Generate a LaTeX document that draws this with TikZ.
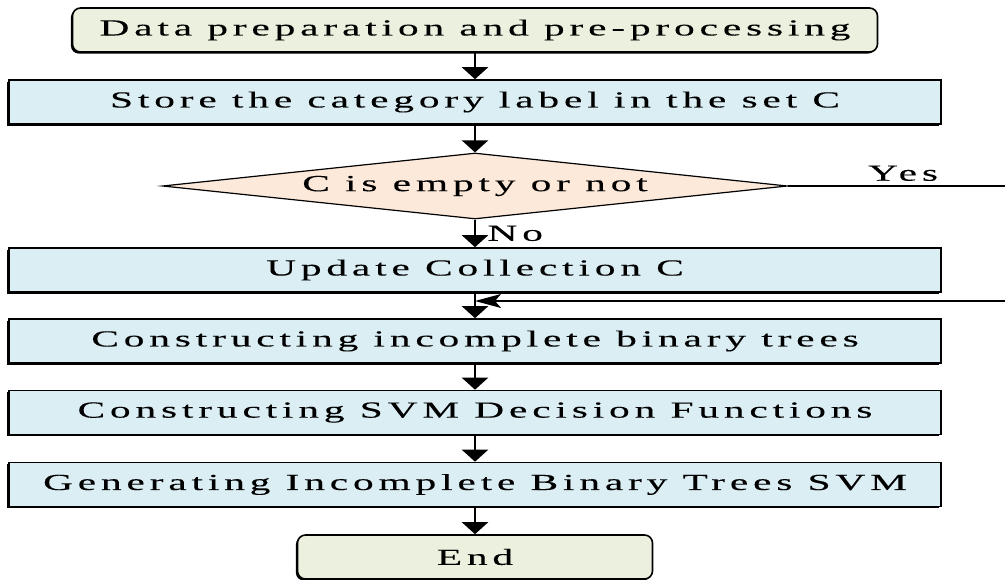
\documentclass[tikz,border=0pt]{standalone}
\usepackage{fontspec}
\setmainfont{Liberation Serif}[FakeStretch=1.8, LetterSpace=21, FakeBold=0.15]
\usetikzlibrary{arrows.meta,shapes.geometric,shadows}
\definecolor{termfill}{HTML}{EBF1DE}
\definecolor{stepfill}{HTML}{DAEEF3}
\definecolor{testfill}{HTML}{FDE9D9}
\begin{document}
\begin{tikzpicture}[x=1pt, y=-1pt,
  font=\fontsize{23}{27}\selectfont,
  boxshadow/.style={drop shadow={shadow xshift=-1.6pt, shadow yshift=-1.6pt, fill=black, opacity=1}},
  term/.style={draw, rounded corners=8pt, fill=termfill, line width=1.6pt,
    inner sep=0pt, minimum height=44pt, boxshadow},
  stepbox/.style={draw, fill=stepfill, line width=1.6pt, inner sep=0pt,
    minimum width=932pt, minimum height=44pt, boxshadow},
  test/.style={draw, diamond, aspect=9.5, fill=testfill, line width=1.2pt, inner sep=0pt,
    minimum width=625pt, minimum height=66pt},
  flow/.style={line width=2.4pt, -{Triangle[width=26pt,length=12pt]}},
  link/.style={line width=1.4pt},
  backflow/.style={line width=1.4pt, -{Stealth[width=14pt,length=26pt,inset=6pt]}}]
\useasboundingbox (0,0) rectangle (1005,580);

\node[term, minimum width=805pt] (prep) at (475,30) {Data preparation and pre-processing};
\node[stepbox] (store)  at (475,102) {Store the category label in the set C};
\node[test]    (test)   at (475,186) {C is empty or not};
\node[stepbox] (update) at (475,270) {Update Collection C};
\node[stepbox] (tree)   at (475,341) {Constructing incomplete binary trees};
\node[stepbox] (svm)    at (475,412.5) {Constructing SVM Decision Functions};
\node[stepbox] (gen)    at (475,484.5) {Generating Incomplete Binary Trees SVM};
\node[term, minimum width=355pt] (end) at (475,557) {End};

\coordinate (yesend) at (1005,186);
\coordinate (backstart) at (1005,301);
\coordinate (merge) at (475,301);

\draw[flow] (prep) -- (store);
\draw[flow] (store) -- (test);
\draw[flow] (test) -- (update) node[midway, right, xshift=8pt] {No};
\draw[flow] (update) -- (tree);
\draw[flow] (tree) -- (svm);
\draw[flow] (svm) -- (gen);
\draw[flow] (gen) -- (end);
\draw[link] (test.east) -- (yesend) node[pos=0.53, above, yshift=1pt] {Yes};
\draw[backflow] (backstart) -- (merge);
\end{tikzpicture}
\end{document}
